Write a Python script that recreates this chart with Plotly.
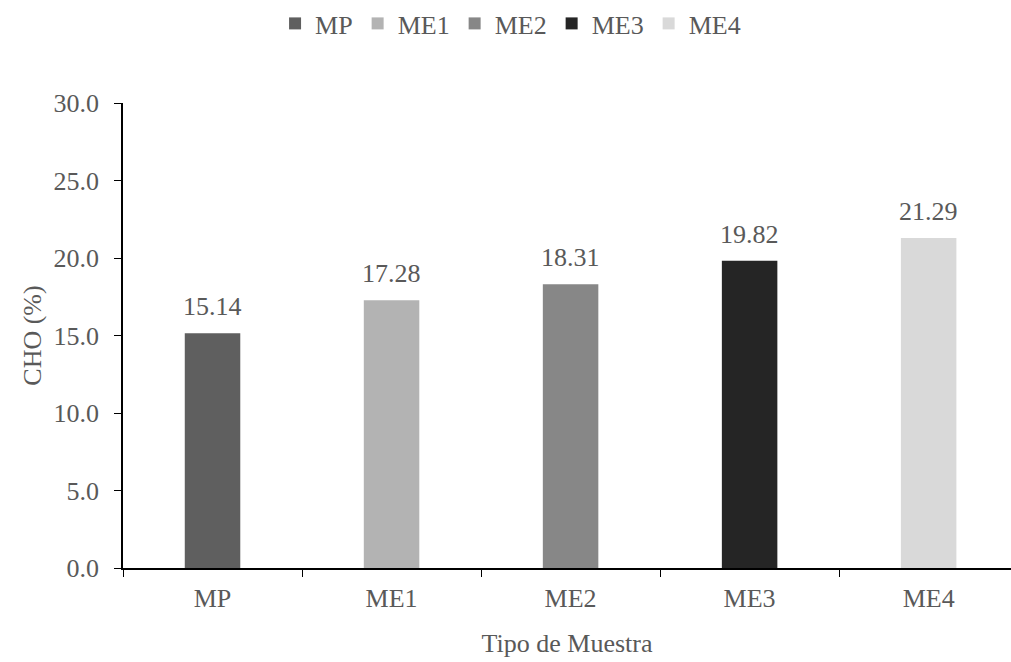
import plotly.graph_objects as go

# Carbohydrate content per sample type
categories = ["MP", "ME1", "ME2", "ME3", "ME4"]
cho_values = [15.14, 17.28, 18.31, 19.82, 21.29]
bar_colors = ["#5f5f5f", "#b3b3b3", "#878787", "#252525", "#d9d9d9"]

TEXT_GREY = "#595959"
FONT = "Liberation Serif"
SIZE = 26

fig = go.Figure()
for cat, val, col in zip(categories, cho_values, bar_colors):
    fig.add_trace(go.Bar(
        x=[cat], y=[val], name=cat,
        marker=dict(color=col, line=dict(width=0)),
        width=0.31,
    ))
    # value label above each bar
    fig.add_annotation(
        x=cat, y=val, text=f"{val:.2f}", showarrow=False,
        yanchor="bottom", yshift=10,
        font=dict(family=FONT, size=SIZE, color=TEXT_GREY),
    )

fig.update_layout(
    width=1011, height=662,
    margin=dict(l=123, r=0, t=103, b=94),
    paper_bgcolor="white", plot_bgcolor="white",
    barmode="relative",
    font=dict(family=FONT, size=SIZE, color=TEXT_GREY),
    showlegend=True,
    legend=dict(
        orientation="h", xref="container", yref="container",
        x=0.505, xanchor="center", y=1.0, yanchor="top",
        font=dict(family=FONT, size=SIZE, color=TEXT_GREY),
        itemwidth=30, traceorder="normal",
    ),
    xaxis=dict(
        type="category", categoryorder="array", categoryarray=categories,
        range=[-0.5, 4.46],
        showline=True, linecolor="black", linewidth=1.5,
        ticks="outside", tickson="boundaries", ticklen=7, tickcolor="black",
        tickfont=dict(family=FONT, size=SIZE, color=TEXT_GREY),
        ticklabelstandoff=6,
        title=dict(text="Tipo de Muestra", font=dict(family=FONT, size=SIZE, color=TEXT_GREY), standoff=22),
        showgrid=False, zeroline=False,
    ),
    yaxis=dict(
        range=[0, 30], dtick=5, tickformat=".1f",
        showline=True, linecolor="black", linewidth=1.5,
        ticks="outside", ticklen=7, tickcolor="black",
        tickfont=dict(family=FONT, size=SIZE, color=TEXT_GREY),
        ticklabelstandoff=10,
        title=dict(text="CHO (%)", font=dict(family=FONT, size=SIZE, color=TEXT_GREY), standoff=4),
        showgrid=False, zeroline=False,
    ),
)

fig.write_html("out.html")
